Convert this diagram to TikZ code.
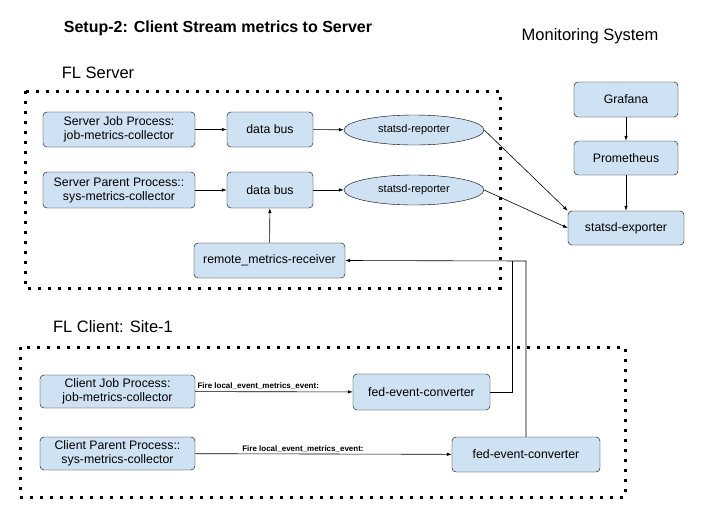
\documentclass[tikz,border=0pt]{standalone}
\usepackage{fontspec}
\setmainfont{Liberation Sans}
\usetikzlibrary{arrows.meta,shapes.geometric}
\definecolor{boxblue}{HTML}{CFE2F3}
\begin{document}
\begin{tikzpicture}[x=1pt,y=-1pt,
  box/.style={draw, fill=boxblue, rounded corners=4pt, align=center, font=\fontsize{12.3}{14}\selectfont, inner sep=0pt},
  ell/.style={draw, fill=boxblue, ellipse, font=\fontsize{11}{13}\selectfont, inner sep=0pt},
  arr/.style={-{Latex[length=5pt,width=3.5pt]}, line width=0.6pt},
  dots/.style={line width=3pt, dash pattern=on 3pt off 7pt},
  lbl/.style={font=\fontsize{8}{9}\selectfont\bfseries, inner sep=1.5pt}]
\useasboundingbox (0,0) rectangle (701,511);
\node[font=\bfseries\fontsize{16}{18}\selectfont] (title) at (218,28) {Setup-2: Client Stream metrics to Server};
\node[font=\fontsize{16.5}{19}\selectfont] (mon) at (590,36) {Monitoring System};
\node[font=\fontsize{16.5}{19}\selectfont] (fls) at (98,73) {FL Server};
\node[font=\fontsize{16.5}{19}\selectfont] (flc) at (113,327) {FL Client: Site-1};
\draw[dots] (25,91) rectangle (500,288);
\draw[dots] (20,347) rectangle (625,497);
% server
\node[box, minimum width=152pt, minimum height=35pt] (sj) at (119,129.5) {Server Job Process:\\job-metrics-collector};
\node[box, minimum width=86pt, minimum height=35pt] (db1) at (270,129.5) {data bus};
\node[ell, minimum width=140pt, minimum height=30pt] (sr1) at (414,130) {statsd-reporter};
\node[box, minimum width=152pt, minimum height=36pt] (sp) at (119,190) {Server Parent Process::\\sys-metrics-collector};
\node[box, minimum width=86pt, minimum height=36pt] (db2) at (270,190) {data bus};
\node[ell, minimum width=140pt, minimum height=30pt] (sr2) at (414,190) {statsd-reporter};
\node[box, minimum width=151pt, minimum height=35pt] (rm) at (269.5,260.5) {remote\_metrics-receiver};
% monitoring
\node[box, minimum width=104pt, minimum height=35pt] (gr) at (626,99.5) {Grafana};
\node[box, minimum width=104pt, minimum height=34pt] (pr) at (626,158) {Prometheus};
\node[box, minimum width=116pt, minimum height=34pt] (se) at (626,228) {statsd-exporter};
% client
\node[box, minimum width=155pt, minimum height=33pt] (cj) at (117.5,391.5) {Client Job Process:\\job-metrics-collector};
\node[box, minimum width=137pt, minimum height=36pt] (fe1) at (421.5,392) {fed-event-converter};
\node[box, minimum width=155pt, minimum height=33pt] (cp) at (117.5,453.5) {Client Parent Process::\\sys-metrics-collector};
\node[box, minimum width=148pt, minimum height=35pt] (fe2) at (526,454.5) {fed-event-converter};
\coordinate (j1) at (512,261);
\coordinate (j2) at (527,261);
% arrows
\draw[arr] (sj) -- (db1);
\draw[arr] (db1) -- (sr1);
\draw[arr] (sp) -- (db2);
\draw[arr] (db2) -- (sr2);
\draw[arr] (rm) -- (db2);
\draw[arr] (sr1.east) -- (se.north west);
\draw[arr] (sr2.east) -- (se.west);
\draw[arr] (gr) -- (pr);
\draw[arr] (pr) -- (se);
\draw[arr] (cj) -- node[lbl, above, pos=0.4] {Fire local\_event\_metrics\_event:} (fe1);
\draw[arr] (cp) -- node[lbl, above, pos=0.42] {Fire local\_event\_metrics\_event:} (fe2);
\draw[line width=0.6pt] (fe1.east) -| (j1);
\draw[arr] (fe2.north) -- (fe2.north |- j2) -- (rm.east);
\end{tikzpicture}
\end{document}
